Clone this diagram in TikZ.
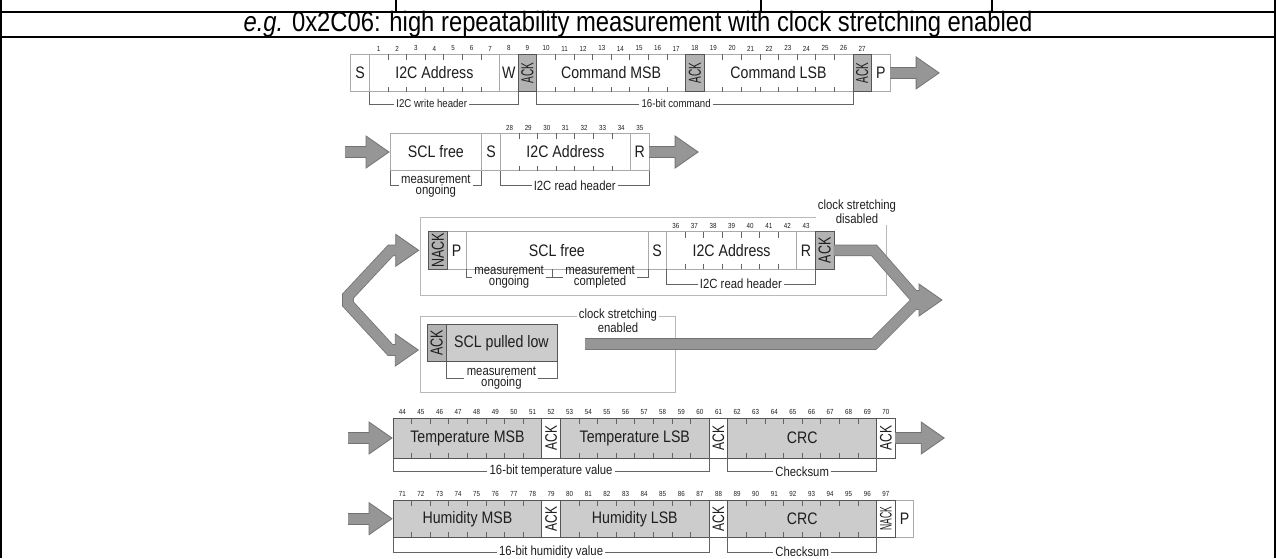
\documentclass[tikz,border=0pt]{standalone}
\usepackage{fontspec}
\setmainfont{Liberation Sans}[FakeStretch=0.85]
\usepackage{graphicx}
\usetikzlibrary{positioning, calc}

\definecolor{lightline}{RGB}{170,170,170}
\definecolor{darkline}{RGB}{85,85,85}
\definecolor{tickline}{RGB}{100,100,100}
\definecolor{ackfill}{RGB}{178,178,178}
\definecolor{datafill}{RGB}{204,204,204}
\definecolor{arrowfill}{RGB}{150,150,150}
\definecolor{arrowline}{RGB}{115,115,115}
\definecolor{frameline}{RGB}{185,185,185}
\definecolor{textcol}{RGB}{30,30,30}

\newcommand{\fsz}[1]{\fontsize{#1}{#1}\selectfont}
\newcommand{\vtxt}[2][0.85]{\rotatebox{90}{\scalebox{#1}[1]{#2}}}

\tikzset{
  cell/.style={draw=lightline, fill=white, line width=0.6pt, minimum height=28pt,
    inner sep=0pt, outer sep=0pt, font=\fsz{12.5}, text=textcol},
  bits/.style={minimum width=#1*13.95pt},
  dcell/.style={cell, draw=darkline},
  gcell/.style={cell, draw=darkline, fill=datafill},
  acell/.style={cell, draw=darkline, fill=ackfill, font=\fsz{13}},
  bitnum/.style={anchor=south, yshift=2.2pt, inner sep=0pt, font=\fsz{5.5}, text=textcol},
  bittick/.style={draw=tickline, line width=0.5pt},
  brline/.style={draw=tickline, line width=0.5pt},
  brlbl/.style={inner sep=1.5pt, align=center, font=\fontsize{10}{8.3}\selectfont, text=textcol},
  boxframe/.style={draw=frameline, line width=0.6pt},
  shaftline/.style={draw=arrowline, line width=8.7pt},
  shaftfill/.style={draw=arrowfill, line width=7.5pt},
  fathead/.style={fill=arrowfill, draw=arrowline, line width=0.6pt, line join=miter},
  tbl/.style={draw=black, line width=1.2pt},
}

% bit numbers above a field: node, number of bits, first number
\newcommand{\bitno}[3]{\foreach \k in {1,...,#2}{
  \pgfmathtruncatemacro{\nr}{#3+\k-1}
  \node[bitnum] at ($(#1.north west)!{(\k-0.5)/#2}!(#1.north east)$) {\nr};}}
% bit ticks inside a field of two or more bits
\newcommand{\bitticks}[2]{\foreach \k in {2,...,#2}{
  \draw[bittick] ($(#1.north west)!{(\k-1)/#2}!(#1.north east)$) -- ++(0,6)
    ($(#1.south west)!{(\k-1)/#2}!(#1.south east)$) -- ++(0,-5);}}
% bracket under fields: [options] name, from, to, depth, text
\newcommand{\bracket}[6][]{%
  \node[brlbl,#1] (#2) at ($(#3)!0.5!(#4)+(0,#5)$) {#6};
  \draw[brline] (#3) |- (#2.west);
  \draw[brline] (#2.east) -| (#4);}
\newcommand{\headto}[1]{\filldraw[fathead] (#1) -- ++(-23,-16) -- ++(0,32) -- cycle;}
\newcommand{\fatarrow}[2]{\draw[shaftline] #1; #2 \draw[shaftfill] #1;}

\begin{document}
\begin{tikzpicture}[x=0.75pt, y=-0.75pt]
\useasboundingbox (0,0) rectangle (1276,558);

% table frame and title
\draw[tbl] (0,12) -- (1276,12) (0,37) -- (1276,37);
\draw[tbl] (1,0) -- (1,558) (1275,0) -- (1275,558)
  (396,0) -- (396,12) (761,0) -- (761,12) (992,0) -- (992,12);
\node[font=\fsz{21}] (title) at (638,24.5)
  {\textit{e.g.} 0x2C06: high repeatability measurement with clock stretching enabled};

% write header and command
\node[cell, bits=1, anchor=west] (s1) at (350.7,72.9) {S};
\node[cell, bits=7, right=0pt of s1] (addr1) {I2C Address};
\node[cell, bits=1, right=0pt of addr1] (w1) {W};
\node[acell, bits=1, right=0pt of w1] (ack9) {\vtxt[0.68]{ACK}};
\node[cell, bits=8, right=0pt of ack9] (cmsb) {Command MSB};
\node[acell, bits=1, right=0pt of cmsb] (ack18) {\vtxt[0.68]{ACK}};
\node[cell, bits=8, right=0pt of ack18] (clsb) {Command LSB};
\node[acell, bits=1, right=0pt of clsb] (ack27) {\vtxt[0.68]{ACK}};
\node[cell, bits=1, right=0pt of ack27] (p1) {P};
\bitticks{addr1}{7} \bitticks{cmsb}{8} \bitticks{clsb}{8}
\bitno{addr1}{7}{1} \bitno{w1}{1}{8} \bitno{ack9}{1}{9} \bitno{cmsb}{8}{10}
\bitno{ack18}{1}{18} \bitno{clsb}{8}{19} \bitno{ack27}{1}{27}
\bracket[font=\fsz{8.5}, xshift=-9pt]{wh}{addr1.south west}{w1.south east}{12.3}{I2C write header}
\bracket[font=\fsz{8.5}, xshift=-14pt]{cmd}{cmsb.south west}{clsb.south east}{12.3}{16-bit command}
\fatarrow{(p1.east) -- ++(30,0)}{\headto{$(p1.east)+(49,0)$}}

% read header
\node[cell, minimum width=68.8pt, anchor=west] (scl2) at (390,152) {SCL free};
\node[cell, bits=1, right=0pt of scl2] (s2) {S};
\node[cell, bits=7, right=0pt of s2] (addr2) {I2C Address};
\node[cell, bits=1, right=0pt of addr2] (r2) {R};
\bitticks{addr2}{7}
\bitno{addr2}{7}{28} \bitno{r2}{1}{35}
\bracket{mo2}{scl2.south west}{scl2.south east}{15}{measurement\\ongoing}
\bracket{rh2}{addr2.south west}{r2.south east}{15}{I2C read header}
\fatarrow{($(scl2.west)+(-45,0)$) -- ++(26,0)}{\headto{$(scl2.west)+(-1,0)$}}
\fatarrow{(r2.east) -- ++(30,0)}{\headto{$(r2.east)+(49,0)$}}

% clock stretching disabled
\coordinate (f3a) at (420,217);
\coordinate (f3b) at (886.7,295);
\node[align=center, inner sep=1pt, font=\fontsize{10}{9}\selectfont, text=textcol] (csd) at (857,212)
  {clock stretching\\disabled};
\draw[boxframe] (csd.west |- f3a) -- (f3a) |- (f3b) -- (f3b |- csd.south);
\node[acell, bits=1, anchor=west] (nack3) at (428.7,250.3) {\vtxt{NACK}};
\node[cell, bits=1, right=0pt of nack3] (p3) {P};
\node[cell, minimum width=136.5pt, right=0pt of p3] (scl3) {SCL free};
\node[cell, bits=1, right=0pt of scl3] (s3) {S};
\node[cell, bits=7, right=0pt of s3] (addr3) {I2C Address};
\node[cell, bits=1, right=0pt of addr3] (r3) {R};
\node[acell, bits=1, right=0pt of r3] (ackdis) {\vtxt{ACK}};
\bitticks{addr3}{7}
\bitno{addr3}{7}{36} \bitno{r3}{1}{43}
\coordinate (mid3) at ($(scl3.south west)!0.475!(scl3.south east)$);
\bracket{mo3}{scl3.south west}{mid3}{8}{measurement\\ongoing}
\bracket{mc3}{mid3}{scl3.south east}{8}{measurement\\completed}
\bracket{rh3}{addr3.south west}{r3.south east}{15}{I2C read header}

% clock stretching enabled
\coordinate (f4a) at (420,316);
\coordinate (f4b) at (675,392.7);
\node[align=center, inner sep=1pt, font=\fontsize{10}{9}\selectfont, text=textcol] (cse) at (618,321)
  {clock stretching\\enabled};
\draw[boxframe] (cse.west |- f4a) -- (f4a) |- (f4b) |- (cse.east |- f4a);
\node[acell, bits=1, anchor=west] (ackena) at (427.3,343) {\vtxt{ACK}};
\node[gcell, minimum width=83.25pt, right=0pt of ackena] (scl4) {SCL pulled low};
\bracket{mo4}{scl4.south west}{scl4.south east}{16.6}{measurement\\ongoing}

% dark borders over the light ones
\foreach \n in {ack9,ack18,ack27,nack3,ackdis}
  \draw[darkline, line width=0.6pt] (\n.north west) rectangle (\n.south east);

% fork and merge arrows
\coordinate (fork) at (348,300);
\coordinate (tipu) at ($(nack3.west)+(-10,0)$);
\coordinate (tipd) at ($(ackena.west)+(-9,7)$);
\fatarrow{($(tipu)+(-19,0)$) -- ($(tipu)+(-28,0)$) -- ($(fork)+(0,-4)$)
  -- ($(fork)+(0,4)$) -- ($(tipd)+(-28,0)$) -- ($(tipd)+(-19,0)$)}{\headto{tipu}\headto{tipd}}
\coordinate (bar4) at (585,344);
\coordinate (merge) at (942,300);
\fatarrow{(ackdis.east) -- (874,250.3) -- (914,296) -- (923,296)
  (bar4) -- (874,344) -- (914,304) -- (923,304)}{\headto{merge}}

% temperature
\node[gcell, bits=8, minimum height=30pt, anchor=west] (tmsb) at (393,438) {Temperature MSB};
\node[dcell, bits=1, minimum height=30pt, right=0pt of tmsb] (ack52) {\vtxt{ACK}};
\node[gcell, bits=8, minimum height=30pt, right=0pt of ack52] (tlsb) {Temperature LSB};
\node[dcell, bits=1, minimum height=30pt, right=0pt of tlsb] (ack61) {\vtxt{ACK}};
\node[gcell, bits=8, minimum height=30pt, right=0pt of ack61] (crc5) {CRC};
\node[dcell, bits=1, minimum height=30pt, right=0pt of crc5] (ack70) {\vtxt{ACK}};
\bitticks{tmsb}{8} \bitticks{tlsb}{8} \bitticks{crc5}{8}
\bitno{tmsb}{8}{44} \bitno{ack52}{1}{52} \bitno{tlsb}{8}{53}
\bitno{ack61}{1}{61} \bitno{crc5}{8}{62} \bitno{ack70}{1}{70}
\bracket{tv}{tmsb.south west}{tlsb.south east}{13.5}{16-bit temperature value}
\bracket{cs5}{crc5.south west}{crc5.south east}{13.5}{Checksum}
\fatarrow{($(tmsb.west)+(-45,0)$) -- ++(26,0)}{\headto{$(tmsb.west)+(-1,0)$}}
\fatarrow{(ack70.east) -- ++(30,0)}{\headto{$(ack70.east)+(49,0)$}}

% humidity
\node[gcell, bits=8, anchor=west] (hmsb) at (393,518.7) {Humidity MSB};
\node[dcell, bits=1, right=0pt of hmsb] (ack79) {\vtxt{ACK}};
\node[gcell, bits=8, right=0pt of ack79] (hlsb) {Humidity LSB};
\node[dcell, bits=1, right=0pt of hlsb] (ack88) {\vtxt{ACK}};
\node[gcell, bits=8, right=0pt of ack88] (crc6) {CRC};
\node[dcell, bits=1, right=0pt of crc6] (nack97) {\vtxt[0.6]{NACK}};
\node[cell, bits=1, right=0pt of nack97] (p6) {P};
\draw[darkline, line width=0.6pt] (nack97.north west) rectangle (nack97.south east);
\bitticks{hmsb}{8} \bitticks{hlsb}{8} \bitticks{crc6}{8}
\bitno{hmsb}{8}{71} \bitno{ack79}{1}{79} \bitno{hlsb}{8}{80}
\bitno{ack88}{1}{88} \bitno{crc6}{8}{89} \bitno{nack97}{1}{97}
\bracket{hv}{hmsb.south west}{hlsb.south east}{15}{16-bit humidity value}
\bracket{cs6}{crc6.south west}{crc6.south east}{14.5}{Checksum}
\fatarrow{($(hmsb.west)+(-45,0)$) -- ++(26,0)}{\headto{$(hmsb.west)+(-1,0)$}}
\end{tikzpicture}
\end{document}
